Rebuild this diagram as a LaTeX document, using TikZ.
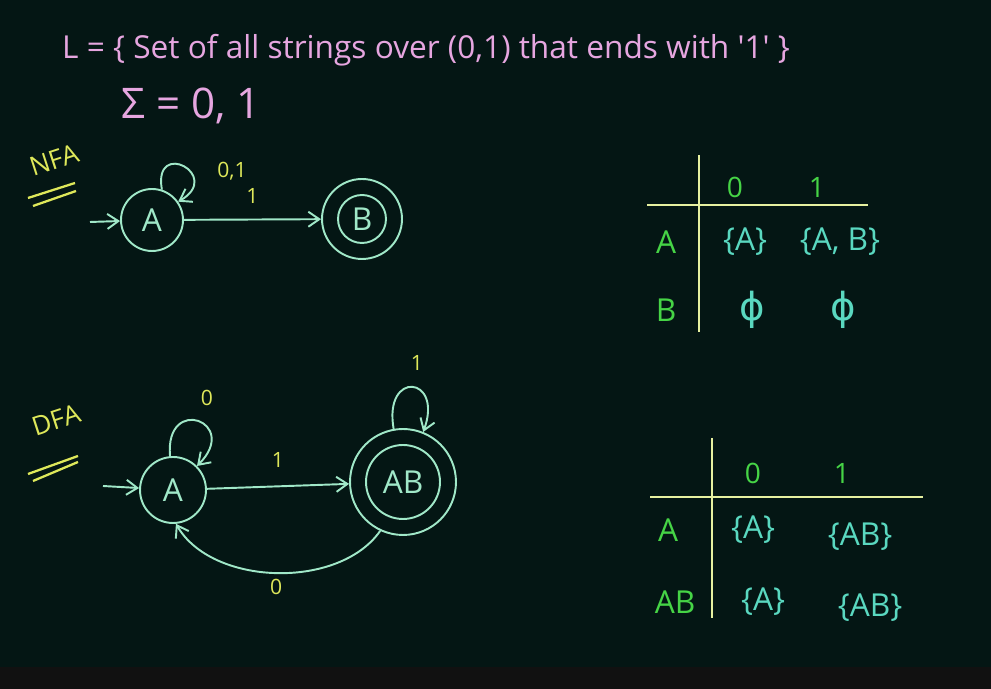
\documentclass[tikz,border=0pt]{standalone}
\usepackage{fontspec}
\setmainfont{Open Sans}
\newfontfamily\phifont{DejaVu Sans}
\usepackage{amsmath}
\usepackage{tikz}
\usetikzlibrary{arrows.meta, positioning}

\definecolor{board}{RGB}{4,22,20}
\definecolor{barcol}{RGB}{17,17,17}
\definecolor{chalkpink}{RGB}{230,166,224}
\definecolor{mint}{RGB}{160,232,200}
\definecolor{chalkyellow}{RGB}{222,232,90}
\definecolor{tableline}{RGB}{230,240,160}
\definecolor{chalkgreen}{RGB}{70,212,70}
\definecolor{chalkcyan}{RGB}{90,216,192}

\begin{document}
\begin{tikzpicture}[
    x=0.02cm, y=0.02cm,
    state/.style={circle, draw=mint, line width=1.1pt, text=mint, inner sep=0pt, font=\fontsize{18}{18}\selectfont},
    flow/.style={-{Straight Barb[length=2.2mm, width=3mm]}, draw=mint, line width=1.1pt},
    edgelabel/.style={text=chalkyellow, font=\fontsize{12}{12}\selectfont},
    machine/.style={text=chalkyellow, font=\fontsize{15}{15}\selectfont, rotate=18, inner sep=0pt},
    underline/.style={draw=chalkyellow, line width=1.3pt},
    grid/.style={draw=tableline, line width=1.3pt},
    head/.style={text=chalkgreen, font=\fontsize{16}{16}\selectfont},
    rowlabel/.style={text=chalkgreen, font=\fontsize{18}{18}\selectfont},
    entry/.style={text=chalkcyan, font=\fontsize{18}{18}\selectfont},
    emptyset/.style={text=chalkcyan, font=\phifont\fontsize{22}{22}\selectfont},
    heading/.style={text=chalkpink, font=\fontsize{18}{18}\selectfont}
  ]

    % Board
    \fill[board] (0,22) rectangle (991,689);
    \fill[barcol] (0,0) rectangle (991,22);
    \useasboundingbox (0,0) rectangle (991,689);

    % Language
    \node[heading] (lang) at (426,639) {L = \{ Set of all strings over (0,1) that ends with \textquotesingle 1\textquotesingle\ \}};
    \node[heading, font=\fontsize{24}{24}\selectfont] (alphabet) at (191,583) {Σ = 0, 1};

    % NFA
    \node[machine] (nfa) at (54,529) {NFA};
    \draw[underline] (28,491) -- (75,506);
    \draw[underline] (33,483) -- (76,498);

    \node[state, minimum size=1.24cm] (nA) at (152,469) {A};
    \node[state, minimum size=0.96cm] (nB) at (362,470) {B};
    \node[state, minimum size=1.6cm] (nBout) at (362,470) {};
    \coordinate (nStart) at (90,467);

    \draw[flow] (nStart) -- (nA);
    \draw[flow] (nA) -- node[edgelabel, above=5pt] {1} (nBout);
    \draw[flow] (nA.72) to[out=100, in=30, distance=1.05cm] (nA.35);
    \node[edgelabel] (nLoop) at (232,518) {0,1};

    % NFA table
    \draw[grid] (699,534) -- (699,357);
    \draw[grid] (647,484) -- (868,484);
    \node[head] (n0) at (735,502) {0};
    \node[head] (n1) at (817,502) {1};
    \node[rowlabel] (nRowA) at (666,447) {A};
    \node[rowlabel] (nRowB) at (666,379) {B};
    \node[entry] (nAA) at (745,447) {\{A\}};
    \node[entry] (nAB) at (840,447) {\{A, B\}};
    \node[emptyset] (nBA) at (752,379) {ϕ};
    \node[emptyset] (nBB) at (843,379) {ϕ};

    % DFA
    \node[machine] (dfa) at (56,269) {DFA};
    \draw[underline] (28,215) -- (78,233);
    \draw[underline] (33,208) -- (78,227);

    \node[state, minimum size=1.32cm] (dA) at (173,199) {A};
    \node[state, minimum size=1.48cm] (dAB) at (403,207) {AB};
    \node[state, minimum size=2.12cm] (dABout) at (403,207) {};
    \coordinate (dStart) at (103,203);

    \draw[flow] (dStart) -- (dA);
    \draw[flow] (dA) -- node[edgelabel, above=7pt] {1} (dABout);
    \draw[flow] (dA.95) to[out=95, in=45, distance=1.25cm] (dA.45);
    \node[edgelabel] (dLoopA) at (207,291) {0};
    \draw[flow] (dABout.100) to[out=100, in=70, distance=1.2cm] (dABout.68);
    \node[edgelabel] (dLoopAB) at (417,326) {1};
    \draw[flow] (dABout.-115) to[out=-125, in=-60, looseness=0.9] node[edgelabel, below=0pt] {0} (dA.-85);

    % DFA table
    \draw[grid] (712,251) -- (712,71);
    \draw[grid] (650,192) -- (923,192);
    \node[head] (d0) at (753,216) {0};
    \node[head] (d1) at (842,216) {1};
    \node[rowlabel] (dRowA) at (668,159) {A};
    \node[rowlabel] (dRowAB) at (675,87) {AB};
    \node[entry] (dAA) at (753,159) {\{A\}};
    \node[entry] (dAAB) at (860,152) {\{AB\}};
    \node[entry] (dABA) at (763,87) {\{A\}};
    \node[entry] (dABAB) at (870,81) {\{AB\}};

  \end{tikzpicture}
\end{document}
